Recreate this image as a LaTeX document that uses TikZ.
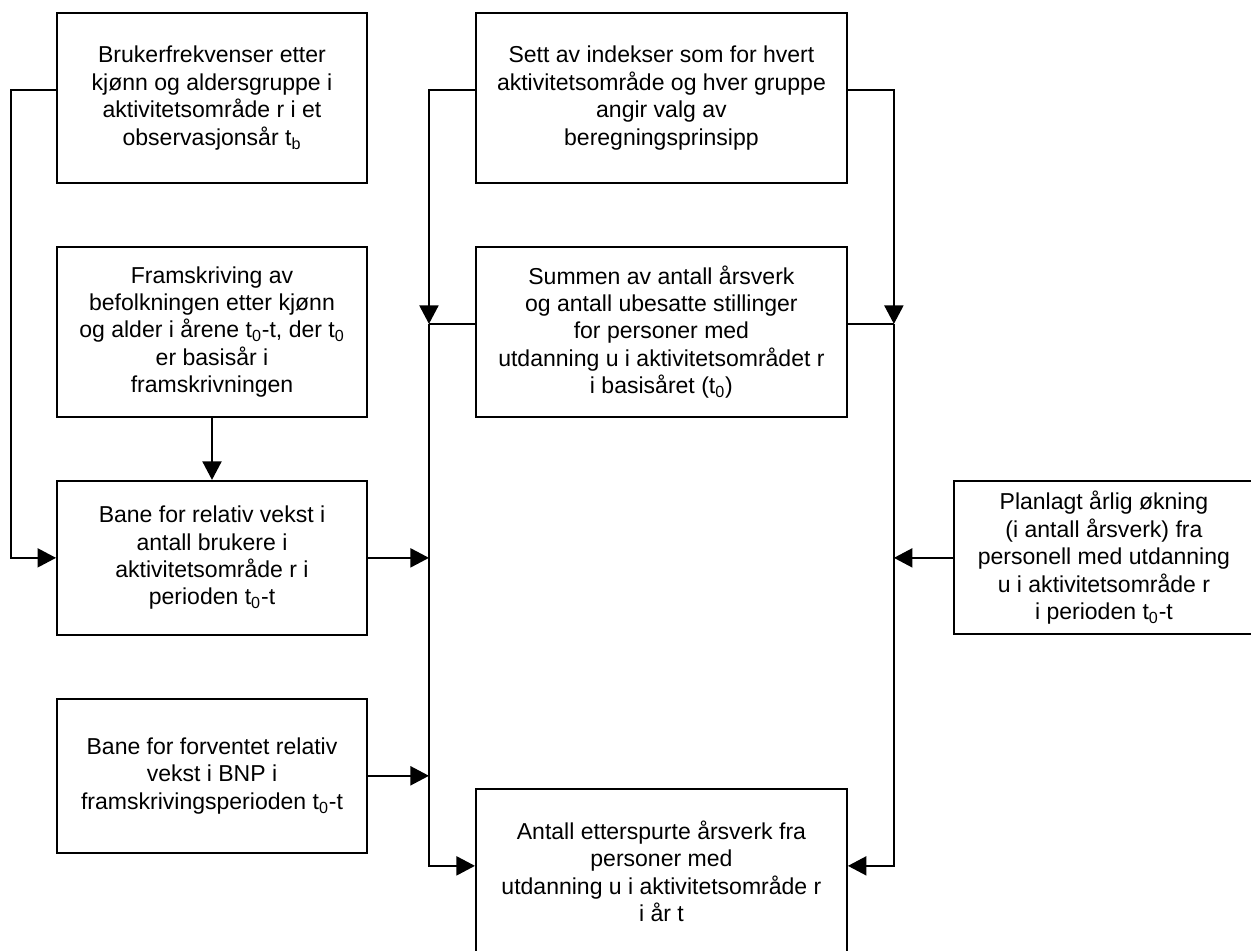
\documentclass[tikz,border=0pt]{standalone}
\usepackage{fontspec}
\setmainfont{Liberation Sans}
\usetikzlibrary{arrows.meta, positioning}

\begin{document}
\begin{tikzpicture}[->,>={Triangle[length=0.37cm,width=0.38cm]},line width=1.1pt,
                     node distance=1.24cm,
                     main node/.style={rectangle,draw,align=center,inner sep=0pt,
                       minimum width=6.2cm,minimum height=3.4cm,
                       font=\fontsize{13.1pt}{15.6pt}\selectfont},
                     wide node/.style={main node,minimum width=7.42cm}]

  \useasboundingbox (0,0) rectangle (25.02,-19.02);

  \node[main node] (1) at (4.24,-1.96) {Brukerfrekvenser etter\\kjønn og aldersgruppe i\\aktivitetsområde r i et\\observasjonsår t\textsubscript{b}};
  \node[main node] (2) [below=of 1] {Framskriving av\\befolkningen etter kjønn\\og alder i årene t\textsubscript{0}-t, der t\textsubscript{0}\\er basisår i\\framskrivningen};
  \node[main node,minimum height=3.08cm] (3) [below=of 2] {Bane for relativ vekst i\\antall brukere i\\aktivitetsområde r i\\perioden t\textsubscript{0}-t};
  \node[main node,minimum height=3.08cm] (4) [below=of 3] {Bane for forventet relativ\\vekst i BNP i\\framskrivingsperioden t\textsubscript{0}-t};
  \node[wide node] (5) [right=2.14cm of 1] {Sett av indekser som for hvert\\aktivitetsområde og hver gruppe\\angir valg av\\beregningsprinsipp};
  \node[wide node] (6) [below=of 5] {Summen av antall årsverk\\og antall ubesatte stillinger\\for personer med\\utdanning u i aktivitetsområdet r\\i basisåret (t\textsubscript{0})};
  \node[main node,minimum width=6cm,minimum height=3.06cm] (7) [right=11.7cm of 3] {Planlagt årlig økning\\(i antall årsverk) fra\\personell med utdanning\\u i aktivitetsområde r\\i perioden t\textsubscript{0}-t};
  \node[wide node,minimum height=3.3cm] (8) [below=7.4cm of 6] {Antall etterspurte årsverk fra\\personer med\\utdanning u i aktivitetsområde r\\i år t};

  \coordinate (left bus) at ([xshift=-0.92cm,yshift=0.16cm]6.west);
  \coordinate (right bus) at ([xshift=0.92cm,yshift=0.16cm]6.east);

  \draw ([yshift=0.16cm]1.west) -- ++(-0.9,0) |- (3.west);
  \draw (2) -- (3);
  \draw ([yshift=0.16cm]5.west) -| (left bus);
  \draw ([yshift=0.16cm]5.east) -| (right bus);
  \draw[-] ([yshift=0.16cm]6.west) -- (left bus);
  \draw[-] ([yshift=0.16cm]6.east) -- (right bus);
  \draw (3.east) -- (3.east -| left bus);
  \draw (4.east) -- (4.east -| left bus);
  \draw (7.west) -- (7.west -| right bus);
  \draw (left bus) |- ([yshift=0.11cm]8.west);
  \draw (right bus) |- ([yshift=0.11cm]8.east);
\end{tikzpicture}
\end{document}
